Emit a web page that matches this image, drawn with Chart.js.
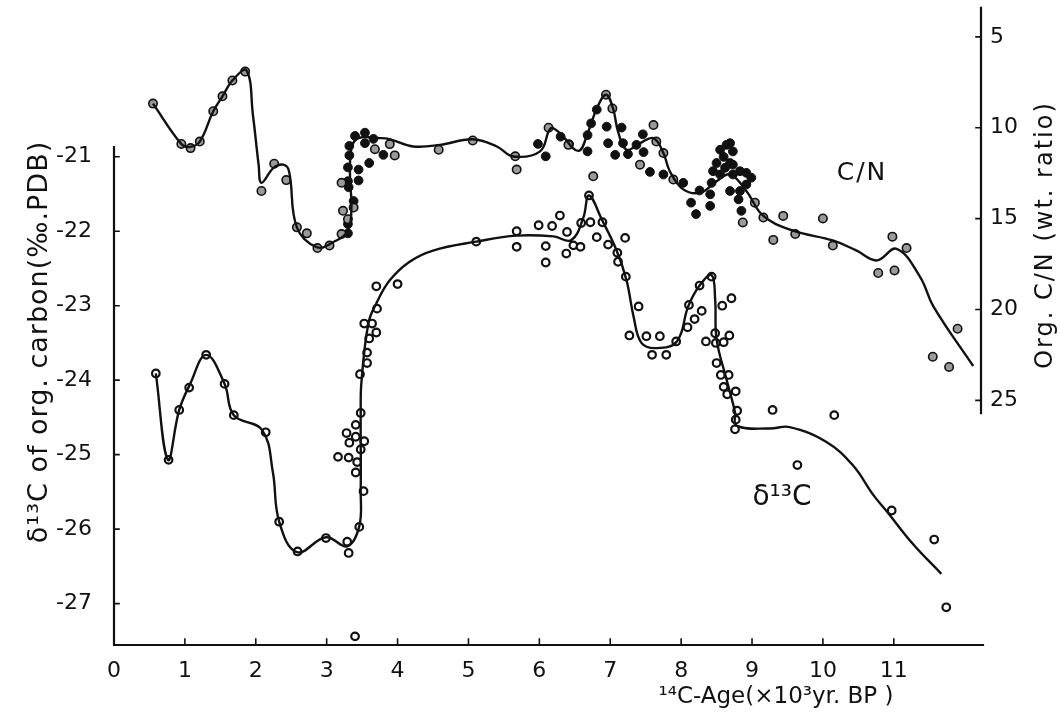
<!DOCTYPE html>
<html>
<head>
<meta charset="utf-8">
<script src="https://cdn.jsdelivr.net/npm/chart.js@4.4.1/dist/chart.umd.min.js"></script>
<style>
  html, body { margin: 0; padding: 0; background: #fff; }
</style>
</head>
<body>
<canvas id="chart" width="1060" height="716"></canvas>
<script>
/* ── Data ── */
// d13C of organic carbon, open circles
const d13Age = [0.59,0.77,0.92,1.06,1.30,1.56,1.69,2.14,2.33,2.59,2.99,3.29,3.31,3.46,3.52,3.41,3.43,3.31,3.16,3.48,
                3.53,3.41,3.32,3.28,3.41,3.48,3.47,3.57,3.40,3.57,3.60,3.70,3.53,3.64,3.71,3.70,4.00,5.11,5.68,5.68,
                5.99,6.09,6.09,6.18,6.29,6.39,6.38,6.48,6.58,6.59,6.72,6.70,6.81,6.89,6.97,7.21,7.10,7.11,7.22,7.40,
                7.27,7.51,7.70,7.59,7.79,7.93,8.09,8.19,8.29,8.11,8.26,8.43,8.58,8.71,8.35,8.48,8.49,8.60,8.68,8.50,
                8.56,8.67,8.60,8.65,8.77,8.79,8.77,8.76,9.29,10.16,9.64,10.97,11.57,11.74];
const d13Val = [-23.91,-25.07,-24.40,-24.10,-23.66,-24.05,-24.47,-24.70,-25.90,-26.30,-26.12,-26.17,-26.32,-25.97,-25.49,-25.24,-25.10,-25.04,-25.03,-24.93,
                -24.82,-24.76,-24.84,-24.71,-24.60,-24.44,-23.92,-23.77,-27.44,-23.63,-23.44,-23.36,-23.24,-23.24,-23.04,-22.74,-22.71,-22.14,-22.00,-22.21,
                -21.92,-22.20,-22.42,-21.93,-21.79,-22.01,-22.30,-22.19,-22.21,-21.89,-21.88,-21.52,-22.08,-21.88,-22.18,-22.09,-22.29,-22.41,-22.61,-23.01,
                -23.40,-23.41,-23.41,-23.66,-23.66,-23.48,-23.29,-23.18,-23.07,-22.99,-22.73,-22.61,-23.00,-22.90,-23.48,-23.37,-23.50,-23.49,-23.40,-23.77,
                -23.93,-23.93,-24.09,-24.19,-24.15,-24.41,-24.53,-24.66,-24.40,-24.47,-25.14,-25.75,-26.14,-27.05];

// hand-drawn d13C curve
const d13CurveAge = [0.59,0.76,0.92,1.07,1.30,1.56,1.69,2.09,2.24,2.33,2.58,2.99,3.29,3.46,3.48,3.48,3.49,3.59,3.70,3.89,
                     4.17,4.50,5.11,5.68,6.20,6.45,6.62,6.70,6.89,7.09,7.23,7.33,7.44,7.65,7.94,8.10,8.26,8.43,8.48,8.50,
                     8.64,8.76,8.78,9.25,9.53,10.05,10.42,10.71,10.90,11.27,11.67];
const d13CurveVal = [-23.91,-25.07,-24.40,-24.06,-23.66,-24.05,-24.47,-24.67,-25.23,-25.90,-26.31,-26.11,-26.23,-25.96,-25.49,-24.43,-24.03,-23.23,-22.97,-22.66,
                     -22.41,-22.26,-22.14,-22.06,-22.07,-22.12,-21.82,-21.52,-21.86,-22.26,-22.66,-23.15,-23.50,-23.57,-23.48,-23.01,-22.73,-22.59,-22.92,-23.45,
                     -23.99,-24.43,-24.61,-24.65,-24.63,-24.83,-25.14,-25.54,-25.76,-26.20,-26.60];

// C/N ratio, grey hatched circles
const cnGreyAge = [0.55,0.95,1.08,1.21,1.40,1.53,1.67,1.85,2.08,2.26,2.43,2.58,2.72,2.87,3.04,3.21,3.23,3.21,3.30,3.38,
                   3.89,3.96,3.68,4.58,5.06,5.66,5.68,6.13,6.41,6.76,6.94,7.03,7.61,7.65,7.75,7.42,7.89,8.87,9.04,9.16,
                   9.30,9.44,9.61,10.00,10.14,10.78,11.01,10.98,11.18,11.55,11.78,11.90];
const cnGreyVal = [8.67,10.89,11.12,10.76,9.09,8.27,7.40,6.91,13.48,11.98,12.88,15.48,15.81,16.62,16.48,15.85,14.57,13.03,15.03,14.39,
                   10.90,11.52,11.18,11.21,10.70,11.57,12.30,10.00,10.94,12.67,8.18,8.94,9.85,10.76,11.39,12.03,12.85,15.21,14.12,14.94,
                   16.17,14.85,15.85,14.99,16.48,17.99,17.85,15.99,16.62,22.60,23.16,21.06];

// C/N ratio, black circles
const cnBlackAge = [3.30,3.30,3.38,3.30,3.45,3.31,3.30,3.45,3.60,3.32,3.32,3.40,3.54,3.54,3.66,3.80,5.98,6.09,6.30,6.42,
                    6.68,6.68,6.73,6.81,6.95,7.16,6.97,7.07,7.18,7.25,7.37,7.46,7.47,7.56,7.75,8.03,8.14,8.21,8.26,8.41,
                    8.41,8.45,8.50,8.55,8.64,8.69,8.73,8.73,8.83,8.92,8.99,8.92,8.83,8.81,8.85,8.69,8.55,8.43,8.69,8.73,
                    8.60,8.62];
const cnBlackVal = [15.81,15.30,14.03,12.94,12.90,13.27,12.18,12.30,11.94,11.52,11.00,10.45,10.27,10.85,10.61,11.49,10.89,11.57,10.49,10.90,
                    11.30,10.40,9.76,9.00,9.94,9.99,10.85,11.49,10.85,11.45,10.94,10.36,11.34,12.43,12.57,13.03,14.12,14.75,13.45,13.66,
                    14.30,12.39,11.94,11.21,10.94,10.85,11.30,12.03,12.39,12.48,12.75,13.12,13.48,13.94,14.57,13.48,12.57,13.03,11.94,12.57,
                    11.60,12.20];

// hand-drawn C/N curve
const cnCurveAge = [0.55,0.95,1.07,1.21,1.40,1.53,1.67,1.87,1.96,2.04,2.08,2.25,2.39,2.47,2.58,2.86,3.09,3.30,3.35,3.33,
                    3.35,3.45,3.75,3.89,4.22,4.60,5.06,5.40,5.63,6.01,6.16,6.29,6.55,6.69,6.81,6.94,7.04,7.11,7.23,7.42,
                    7.61,7.75,7.84,8.03,8.27,8.50,8.69,8.92,9.16,9.58,10.15,10.47,10.76,11.04,11.37,11.56,12.12];
const cnCurveVal = [8.67,10.89,11.05,10.76,9.09,8.27,7.40,6.85,9.31,12.03,13.03,12.21,12.03,12.40,15.48,16.57,16.30,15.66,14.21,12.94,
                    11.12,10.57,10.57,10.63,11.03,10.94,10.63,11.03,11.58,11.30,10.03,10.30,11.27,10.21,8.94,8.18,8.94,10.21,11.21,10.85,
                    10.57,11.39,12.39,13.39,13.57,12.94,12.57,13.48,14.85,15.66,16.21,16.75,17.30,16.66,18.20,19.84,23.11];

// axes
const ageTicks = [0,1,2,3,4,5,6,7,8,9,10,11];
const d13Ticks = [-21,-22,-23,-24,-25,-26,-27];
const cnTicks  = [5,10,15,20,25];
const ageRange = [0, 12.23];
const d13Range = [-27.556, -18.979];
const cnRange  = [3.311, 38.46];
const d13AxisTop  = -20.87;
const cnAxisSpan  = [3.4, 25.7];

const pts = (xs, ys) => xs.map((x, i) => ({ x, y: ys[i] }));

/* ── Style ── */
const INK  = "#111";
const FONT = "'DejaVu Sans', sans-serif";

/* ── Axis lines, inward ticks, titles ── */
const frame = {
  id: "frame",
  afterDraw(chart) {
    const ctx = chart.ctx;
    const { x, yL, yR } = chart.scales;
    const area = chart.chartArea;
    ctx.save();
    ctx.strokeStyle = INK;
    ctx.lineWidth = 2.2;
    ctx.lineCap = "square";

    ctx.beginPath();
    ctx.moveTo(area.left, yL.getPixelForValue(d13AxisTop));
    ctx.lineTo(area.left, area.bottom);
    ctx.lineTo(area.right + 2, area.bottom);
    ctx.moveTo(area.right, yR.getPixelForValue(cnAxisSpan[0]));
    ctx.lineTo(area.right, yR.getPixelForValue(cnAxisSpan[1]));
    ctx.stroke();

    ctx.lineWidth = 1.6;
    ctx.beginPath();
    ageTicks.forEach(v => {
      const px = x.getPixelForValue(v);
      ctx.moveTo(px, area.bottom); ctx.lineTo(px, area.bottom - 6);
    });
    d13Ticks.forEach(v => {
      const py = yL.getPixelForValue(v);
      ctx.moveTo(area.left, py); ctx.lineTo(area.left + 5, py);
    });
    cnTicks.forEach(v => {
      const py = yR.getPixelForValue(v);
      ctx.moveTo(area.right, py); ctx.lineTo(area.right - 5, py);
    });
    ctx.stroke();

    ctx.fillStyle = INK;
    ctx.textAlign = "center";
    ctx.textBaseline = "middle";

    ctx.font = `27px ${FONT}`;
    ctx.letterSpacing = "1px";
    ctx.save();
    ctx.translate(40, 342);
    ctx.rotate(-Math.PI / 2);
    ctx.fillText("δ¹³C of org. carbon(‰.PDB)", 0, 0);
    ctx.restore();

    ctx.font = `24px ${FONT}`;
    ctx.letterSpacing = "2px";
    ctx.save();
    ctx.translate(1046, 235);
    ctx.rotate(-Math.PI / 2);
    ctx.fillText("Org. C/N (wt. ratio)", 0, 0);
    ctx.restore();

    ctx.letterSpacing = "0px";
    ctx.font = `23px ${FONT}`;
    ctx.fillText("¹⁴C-Age(×10³yr. BP )", 776, 697);
    ctx.font = `25px ${FONT}`;
    ctx.letterSpacing = "2px";
    ctx.fillText("C/N", 862, 173);
    ctx.letterSpacing = "0px";
    ctx.font = `28px ${FONT}`;
    ctx.fillText("δ¹³C", 782, 498);
    ctx.restore();
  }
};

const fixedWidth = w => s => { s.width = w; s.paddingTop = 0; s.paddingBottom = 0; };
const setTicks = vals => s => { s.ticks = vals.map(v => ({ value: v })); };

new Chart(document.getElementById("chart"), {
  type: "scatter",
  data: {
    datasets: [
      {
        label: "C/N curve",
        data: pts(cnCurveAge, cnCurveVal),
        yAxisID: "yR",
        showLine: true,
        tension: 0.4,
        borderColor: INK,
        borderWidth: 2.4,
        pointRadius: 0,
      },
      {
        label: "d13C curve",
        data: pts(d13CurveAge, d13CurveVal),
        yAxisID: "yL",
        showLine: true,
        tension: 0.4,
        borderColor: INK,
        borderWidth: 2.4,
        pointRadius: 0,
      },
      {
        label: "C/N grey",
        data: pts(cnGreyAge, cnGreyVal),
        yAxisID: "yR",
        pointRadius: 4.2,
        pointBackgroundColor: "#9a9a9a",
        pointBorderColor: INK,
        pointBorderWidth: 1.6,
      },
      {
        label: "C/N black",
        data: pts(cnBlackAge, cnBlackVal),
        yAxisID: "yR",
        pointRadius: 4.4,
        pointBackgroundColor: INK,
        pointBorderColor: INK,
        pointBorderWidth: 1,
      },
      {
        label: "d13C",
        data: pts(d13Age, d13Val),
        yAxisID: "yL",
        pointRadius: 3.8,
        pointBackgroundColor: "#fff",
        pointBorderColor: INK,
        pointBorderWidth: 2.2,
      },
    ]
  },
  options: {
    responsive: false,
    animation: false,
    layout: { padding: 0 },
    plugins: { legend: { display: false }, tooltip: { enabled: false } },
    scales: {
      x: {
        type: "linear",
        min: ageRange[0], max: ageRange[1],
        afterBuildTicks: setTicks(ageTicks),
        afterFit: s => { s.height = 71; s.paddingLeft = 0; s.paddingRight = 0; },
        grid: { display: false, drawTicks: false },
        border: { display: false },
        ticks: { padding: 13, color: INK, font: { family: FONT, size: 22 } },
      },
      yL: {
        type: "linear",
        position: "left",
        min: d13Range[0], max: d13Range[1],
        afterBuildTicks: setTicks(d13Ticks),
        afterFit: fixedWidth(114),
        grid: { display: false, drawTicks: false },
        border: { display: false },
        ticks: { padding: 22, color: INK, font: { family: FONT, size: 22 } },
      },
      yR: {
        type: "linear",
        position: "right",
        reverse: true,
        min: cnRange[0], max: cnRange[1],
        afterBuildTicks: setTicks(cnTicks),
        afterFit: fixedWidth(79),
        grid: { display: false, drawTicks: false },
        border: { display: false },
        ticks: { padding: 9, color: INK, font: { family: FONT, size: 22 } },
      },
    }
  },
  plugins: [frame]
});
</script>
</body>
</html>
